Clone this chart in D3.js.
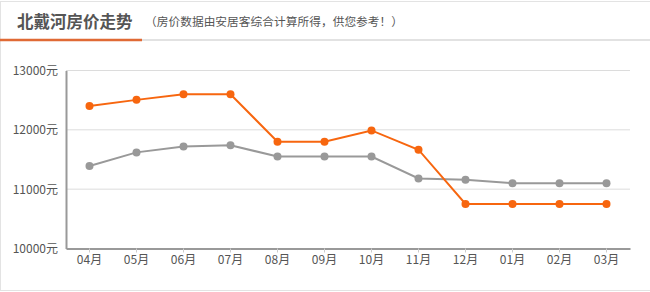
<!DOCTYPE html>
<html>
<head>
<meta charset="utf-8">
<script src="https://cdn.jsdelivr.net/npm/d3@7/dist/d3.min.js"></script>
<style>
  body { margin: 0; background: #fff; font-family: "Noto Sans CJK SC", "Noto Sans", sans-serif; }
</style>
</head>
<body>
<div id="chart"></div>
<script>
// months on the x axis
var months = ["04月", "05月", "06月", "07月", "08月", "09月", "10月", "11月", "12月", "01月", "02月", "03月"];
// local price (orange) and city price (gray)
var orangeValues = [12400, 12505, 12600, 12600, 11800, 11800, 11990, 11665, 10750, 10750, 10750, 10750];
var grayValues = [11390, 11620, 11720, 11740, 11550, 11550, 11550, 11180, 11160, 11100, 11100, 11100];
// y ticks
var yTicks = [10000, 11000, 12000, 13000];

window.onload = function() {
  main();
};

function main() {
  var canvasWidth = 650,
      canvasHeight = 292,
      margin = { top: 70.5, right: 20, bottom: 43.5, left: 66 };

  var width = canvasWidth - margin.left - margin.right;
  var height = canvasHeight - margin.top - margin.bottom;

  var svg = d3.select("#chart")
    .append("svg")
    .attr("width", canvasWidth)
    .attr("height", canvasHeight);

  // outer frame (right side falls outside the picture)
  svg.append("rect")
    .attr("x", 0.5).attr("y", 1.5)
    .attr("width", canvasWidth + 2).attr("height", 289)
    .attr("fill", "none")
    .attr("stroke", "#e3e3e3");

  // header
  svg.append("line")
    .attr("x1", 0).attr("x2", canvasWidth)
    .attr("y1", 40).attr("y2", 40)
    .attr("stroke", "#e2e2e2").attr("stroke-width", 2);
  svg.append("line")
    .attr("x1", 0).attr("x2", 142)
    .attr("y1", 40).attr("y2", 40)
    .attr("stroke", "#e06a35").attr("stroke-width", 2.5);

  svg.append("text")
    .attr("x", 17).attr("y", 28)
    .style("font-size", "16.5px")
    .style("font-weight", "bold")
    .attr("fill", "#555")
    .text("北戴河房价走势");

  // subtitle, stretched to the width it has in the picture
  svg.append("text")
    .attr("x", 145).attr("y", 26)
    .attr("textLength", 258)
    .attr("lengthAdjust", "spacing")
    .style("font-size", "11.7px")
    .attr("fill", "#555")
    .text("（房价数据由安居客综合计算所得，供您参考！）");

  var g = svg.append("g")
    .attr("transform", "translate(" + margin.left + "," + margin.top + ")");

  var x = d3.scaleBand()
    .domain(months)
    .range([0, width]);

  var y = d3.scaleLinear()
    .domain([10000, 13000])
    .range([height, 0]);

  // gridlines
  g.selectAll(".grid")
    .data(yTicks)
    .enter().append("line")
    .attr("x1", 0).attr("x2", width)
    .attr("y1", function(d) { return y(d); })
    .attr("y2", function(d) { return y(d); })
    .attr("stroke", "#dcdcdc");

  // y axis
  var yAxis = g.append("g")
    .call(d3.axisLeft(y).tickValues(yTicks).tickSize(0).tickPadding(8)
      .tickFormat(function(d) { return d + "元"; }));
  yAxis.select(".domain").attr("stroke", "#999").attr("stroke-width", 2);
  yAxis.selectAll("text").style("font-size", "12px").attr("fill", "#555")
    .style("font-family", "\"Noto Sans CJK SC\", sans-serif");

  // x axis
  var xAxis = g.append("g")
    .attr("transform", "translate(0," + height + ")")
    .call(d3.axisBottom(x).tickSize(4).tickPadding(3).tickSizeOuter(0));
  xAxis.select(".domain").attr("stroke", "#999").attr("stroke-width", 2);
  xAxis.selectAll(".tick line").attr("stroke", "#ccc");
  xAxis.selectAll("text").style("font-size", "12px").attr("fill", "#555")
    .style("font-family", "\"Noto Sans CJK SC\", sans-serif");

  drawSeries(g, x, y, grayValues, "#999999");
  drawSeries(g, x, y, orangeValues, "#f7660f");
}

function drawSeries(g, x, y, values, color) {
  var line = d3.line()
    .x(function(d, i) { return x(months[i]) + x.bandwidth() / 2; })
    .y(function(d) { return y(d); });

  g.append("path")
    .datum(values)
    .attr("d", line)
    .attr("fill", "none")
    .attr("stroke", color)
    .attr("stroke-width", 2);

  g.selectAll(null)
    .data(values)
    .enter().append("circle")
    .attr("cx", function(d, i) { return x(months[i]) + x.bandwidth() / 2; })
    .attr("cy", function(d) { return y(d); })
    .attr("r", 4)
    .attr("fill", color);
}
</script>
</body>
</html>
